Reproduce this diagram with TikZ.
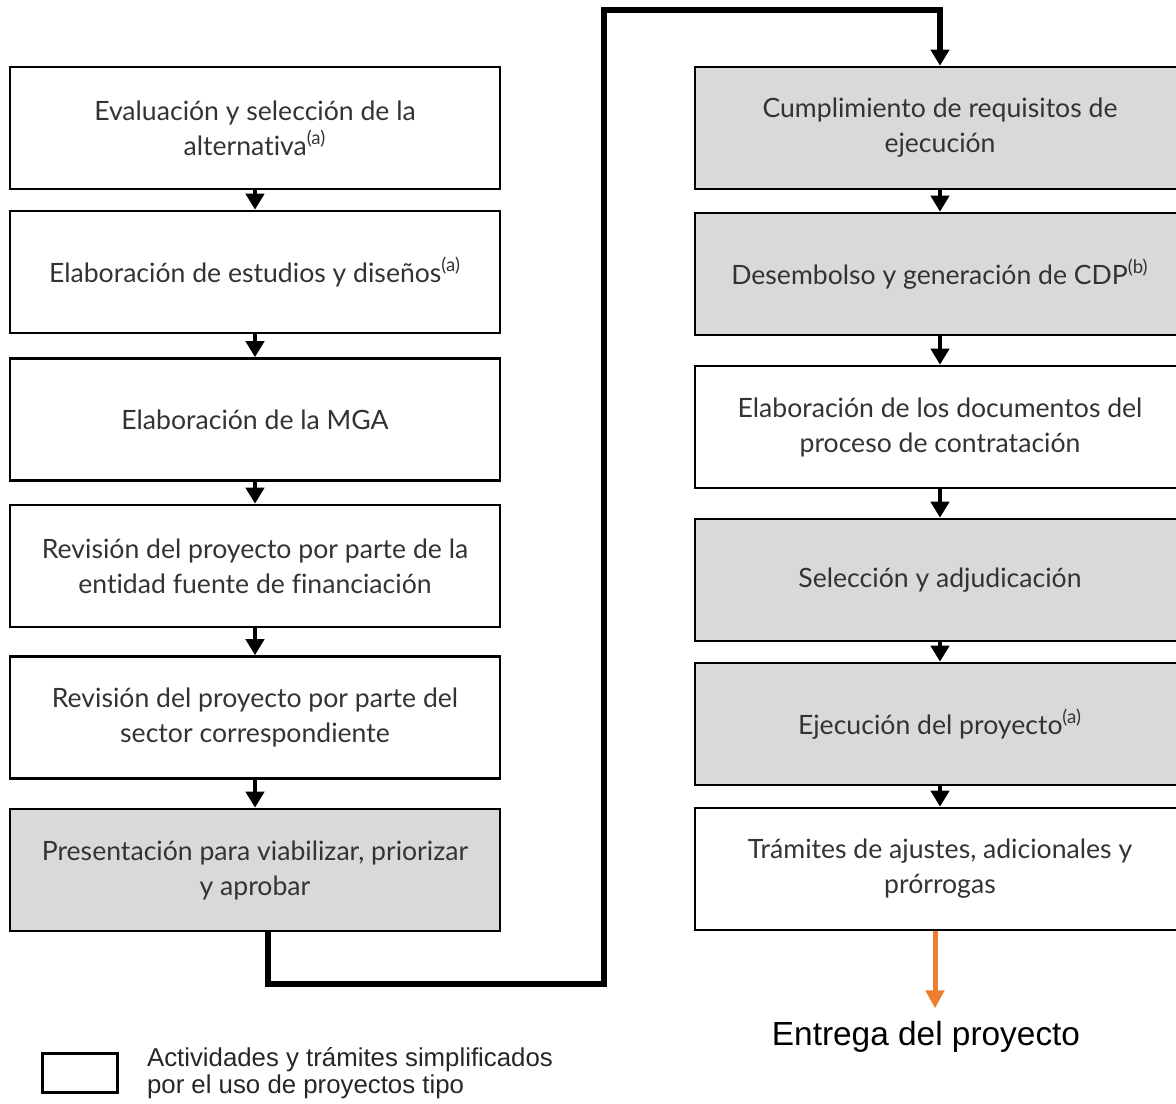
\documentclass[tikz,border=0pt]{standalone}
\usepackage{fontspec}
\setmainfont{Lato}[Ligatures=CommonOff]
\newfontfamily\arialfont{Liberation Sans}
\usetikzlibrary{arrows.meta}
\definecolor{boxgray}{HTML}{D9D9D9}
\definecolor{naranja}{HTML}{ED7D31}

\begin{document}
\begin{tikzpicture}[x=0.5pt, y=-0.5pt,
	caja/.style={draw=black, line width=1.3pt, fill=white, minimum width=245pt, minimum height=61pt, align=center, text=black!80, font=\fontsize{13.3}{17.5}\selectfont},
	gris/.style={caja, fill=boxgray},
	flecha/.style={-{Triangle[width=9pt,length=8pt]}, line width=2pt},
	conector/.style={flecha, line width=3pt}]
	\useasboundingbox (0,0) rectangle (1176,1103);
	% left column
	\node [caja] (0) at (255, 128) {Evaluación y selección de la\\alternativa\textsuperscript{(a)}};
	\node [caja] (1) at (255, 272) {Elaboración de estudios y diseños\textsuperscript{(a)}};
	\node [caja] (2) at (255, 419.5) {Elaboración de la MGA};
	\node [caja] (3) at (255, 566) {Revisión del proyecto por parte de la\\entidad fuente de financiación};
	\node [caja] (4) at (255, 717.5) {Revisión del proyecto por parte del\\sector correspondiente};
	\node [gris] (5) at (255, 870) {Presentación para viabilizar, priorizar\\y aprobar};
	% right column
	\node [gris] (6) at (940, 128) {Cumplimiento de requisitos de\\ejecución};
	\node [gris] (7) at (940, 274) {Desembolso y generación de CDP\textsuperscript{(b)}};
	\node [caja] (8) at (940, 427) {Elaboración de los documentos del\\proceso de contratación};
	\node [gris] (9) at (940, 580) {Selección y adjudicación};
	\node [gris] (10) at (940, 724) {Ejecución del proyecto\textsuperscript{(a)}};
	\node [caja] (11) at (940, 869) {Trámites de ajustes, adicionales y\\prórrogas};
	\node [font=\arialfont\fontsize{16.7}{18}\selectfont] (12) at (926, 1037) {Entrega del proyecto};
	% legend
	\node [draw=black, line width=1.5pt, minimum width=37.5pt, minimum height=19.5pt] (13) at (79.5, 1072.5) {};
	\node [anchor=west, align=left, text=black!85, font=\arialfont\fontsize{12.9}{13.5}\selectfont] (14) at (140, 1073) {Actividades y trámites simplificados\\por el uso de proyectos tipo};
	% arrows
	\foreach \a/\b in {0/1, 1/2, 2/3, 3/4, 4/5, 6/7, 7/8, 8/9, 9/10, 10/11}
		\draw [flecha] (\a) to (\b);
	\draw [conector] ([xshift=6.5pt]5.south) |- (604, 984) -- (604, 10) -| (6.north);
	\draw [-{Triangle[width=9pt,length=9pt]}, line width=2.5pt, draw=naranja, fill=naranja, shorten >=3pt] (11.south -| 935, 0) -- (12.north -| 935, 0);
\end{tikzpicture}
\end{document}
